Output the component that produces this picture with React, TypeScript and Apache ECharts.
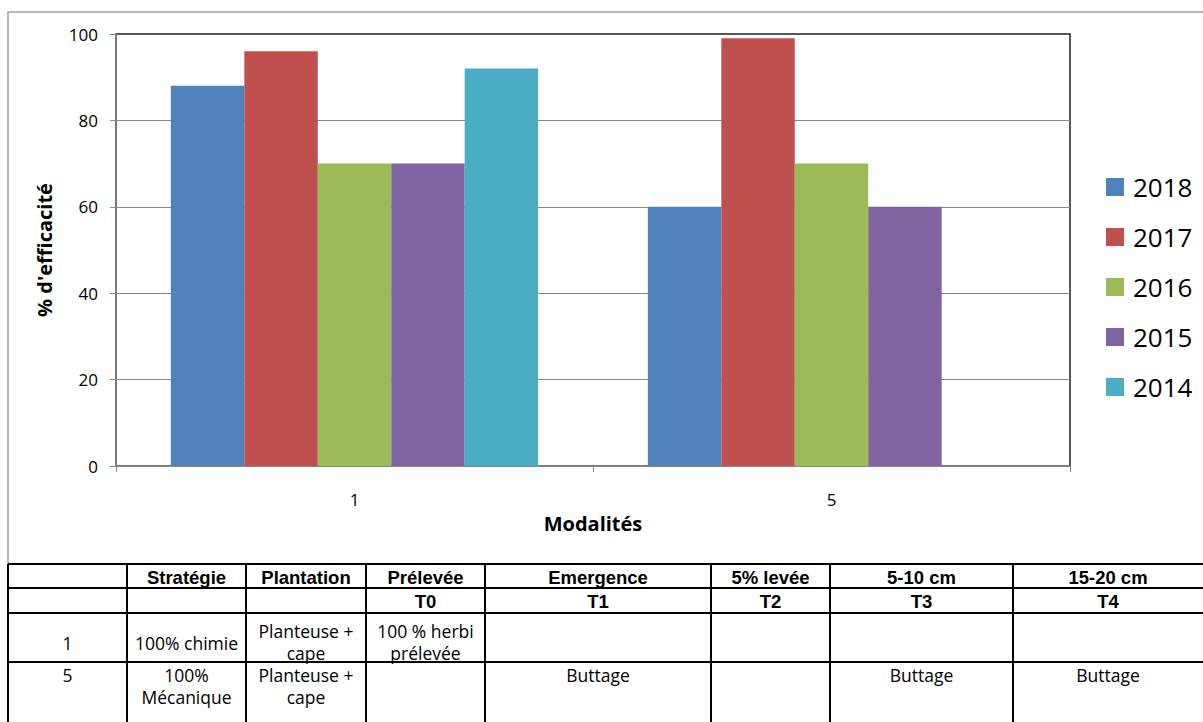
import React, { useEffect, useRef } from "react";
import * as echarts from "echarts";

// Chart data
const categories = ["1", "5"];
const seriesNames = ["2018", "2017", "2016", "2015", "2014"];
const v2018 = [88, 60];
const v2017 = [96, 99];
const v2016 = [70, 70];
const v2015 = [70, 60];
const v2014: (number | null)[] = [92, null];
const seriesColors = ["#4F81BD", "#C0504D", "#9BBB59", "#8064A2", "#4BACC6"];

// Table contents
const headerRow1 = ["", "Stratégie", "Plantation", "Prélevée", "Emergence", "5% levée", "5-10 cm", "15-20 cm"];
const headerRow2 = ["", "", "", "T0", "T1", "T2", "T3", "T4"];
const row1Cells = ["1", "100% chimie", "Planteuse +\ncape", "100 % herbi\nprélevée", "", "", "", ""];
const row5Cells = ["5", "100%\nMécanique", "Planteuse +\ncape", "", "Buttage", "", "Buttage", "Buttage"];

// Table geometry
const colX = [8, 127, 246, 366, 485, 711, 830, 1013, 1203];
const rowY = [564, 588, 613, 662, 730];

const BODY_FONT = "'Open Sans', Lato, sans-serif";
const HEAD_FONT = "'Liberation Sans', Arial, sans-serif";

function buildTable(): any[] {
  const els: any[] = [];
  // horizontal rules
  rowY.slice(0, 4).forEach((y) => {
    els.push({
      type: "line",
      shape: { x1: colX[0], y1: y, x2: colX[colX.length - 1], y2: y },
      style: { stroke: "#000", lineWidth: 2 },
    });
  });
  // vertical rules
  colX.slice(0, colX.length - 1).forEach((x) => {
    els.push({
      type: "line",
      shape: { x1: x, y1: rowY[0], x2: x, y2: rowY[4] },
      style: { stroke: "#000", lineWidth: 2 },
    });
  });
  const addRow = (cells: string[], yTop: number, yBot: number, bold: boolean, lineYs?: number[]) => {
    cells.forEach((txt, i) => {
      if (!txt) return;
      const cx = (colX[i] + colX[i + 1]) / 2;
      const lines = txt.split("\n");
      lines.forEach((ln, k) => {
        const y = lineYs
          ? lines.length === 1
            ? lineYs[2]
            : lineYs[k]
          : (yTop + yBot) / 2 + 1;
        els.push({
          type: "text",
          x: cx,
          y,
          style: {
            text: ln,
            x: 0,
            y: 0,
            align: "center",
            verticalAlign: "middle",
            fill: "#000",
            font: bold ? `bold 18.5px ${HEAD_FONT}` : `17.5px ${BODY_FONT}`,
          },
        });
      });
    });
  };
  addRow(headerRow1, rowY[0], rowY[1], true);
  addRow(headerRow2, rowY[1], rowY[2], true);
  addRow(row1Cells, rowY[2], rowY[3], false, [631, 653, 643]);
  addRow(row5Cells, rowY[3], rowY[4], false, [675, 697, 675]);
  return els;
}

export default function App() {
  const ref = useRef<HTMLDivElement>(null);

  useEffect(() => {
    if (!ref.current) return;
    const chart = echarts.init(ref.current, undefined, { renderer: "svg" });
    const allValues = [v2018, v2017, v2016, v2015, v2014];

    chart.setOption({
      animation: false,
      backgroundColor: "#fff",
      textStyle: { fontFamily: BODY_FONT },
      grid: {
        left: 116,
        right: 133,
        top: 34,
        bottom: 256,
        show: true,
        borderColor: "#222",
        borderWidth: 1.5,
        backgroundColor: "transparent",
      },
      legend: {
        orient: "vertical",
        left: 1101,
        top: 167,
        icon: "rect",
        itemWidth: 18,
        itemHeight: 18,
        itemGap: 20,
        data: seriesNames,
        textStyle: {
          fontSize: 26,
          lineHeight: 30,
          color: "#000",
          fontFamily: BODY_FONT,
          padding: [0, 0, 0, 4],
        },
      },
      xAxis: {
        type: "category",
        data: categories,
        name: "Modalités",
        nameLocation: "middle",
        nameGap: 47,
        nameTextStyle: { fontSize: 20, fontWeight: "bold", color: "#000", fontFamily: BODY_FONT },
        axisLine: { lineStyle: { color: "#868686", width: 1.5 } },
        axisTick: { show: true, length: 6, lineStyle: { color: "#868686" } },
        axisLabel: { fontSize: 17, color: "#000", margin: 25 },
        splitLine: { show: false },
      },
      yAxis: {
        type: "value",
        min: 0,
        max: 100,
        interval: 20,
        name: "% d'efficacité",
        nameLocation: "middle",
        nameGap: 62,
        nameTextStyle: { fontSize: 20, fontWeight: "bold", color: "#000", fontFamily: BODY_FONT },
        axisLine: { show: true, lineStyle: { color: "#868686", width: 1.5 } },
        axisTick: { show: true, length: 6, lineStyle: { color: "#868686" } },
        axisLabel: { fontSize: 17, color: "#000", margin: 18 },
        splitLine: { show: true, showMaxLine: false, lineStyle: { color: "#868686", width: 1 } },
      },
      series: seriesNames.map((name, i) => ({
        name,
        type: "bar",
        data: allValues[i],
        barGap: "0%",
        barCategoryGap: "23%",
        itemStyle: { color: seriesColors[i] },
      })),
      graphic: [
        // outer chart frame
        {
          type: "polyline",
          shape: { points: [[8, 565], [8, 12], [1203, 12]] },
          style: { stroke: "#a0a0a0", lineWidth: 1.5, fill: "none" },
        },
        ...buildTable(),
      ],
    });
    return () => chart.dispose();
  }, []);

  return (
    <div
      ref={ref}
      style={{ position: "fixed", left: 0, top: 0, width: 1203, height: 722, background: "#fff" }}
    />
  );
}
